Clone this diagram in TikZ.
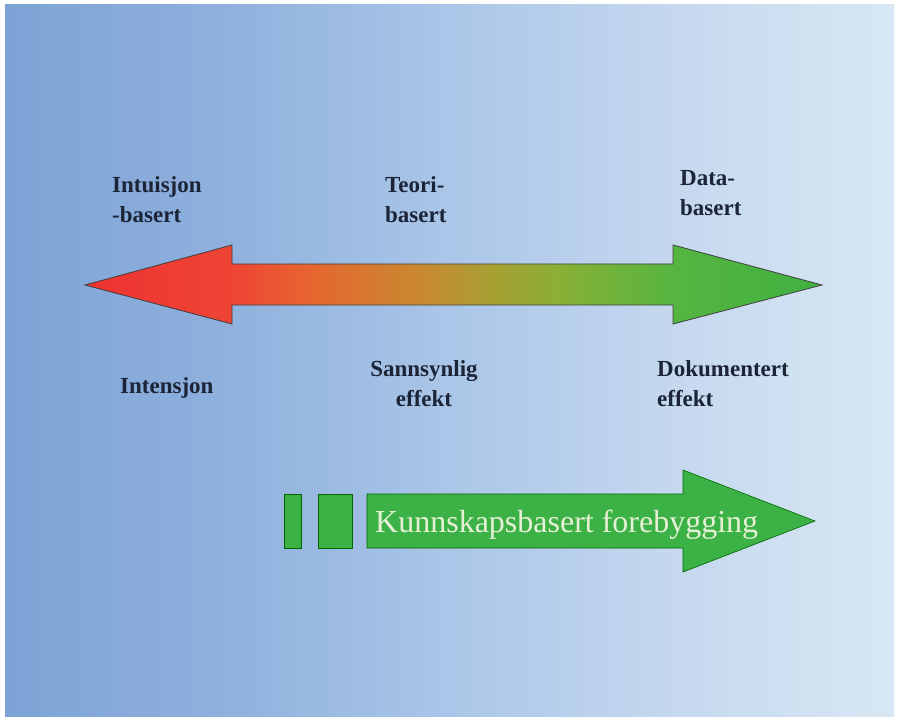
\documentclass[tikz,border=0pt]{standalone}
\usepackage{fontspec}
\setmainfont{Liberation Serif}
\definecolor{labelc}{HTML}{1C2438}
\definecolor{greenarrow}{RGB}{60,178,70}
\definecolor{kbtext}{HTML}{E6F0D6}
\pgfdeclarehorizontalshading{bgshade}{100bp}{
  color(0bp)=(rgb,255:red,125;green,163;blue,214);
  color(25bp)=(rgb,255:red,125;green,163;blue,214);
  color(37bp)=(rgb,255:red,143;green,176;blue,221);
  color(50bp)=(rgb,255:red,170;green,198;blue,232);
  color(62bp)=(rgb,255:red,196;green,215;blue,238);
  color(75bp)=(rgb,255:red,216;green,231;blue,243);
  color(100bp)=(rgb,255:red,216;green,231;blue,243)}
\pgfdeclarehorizontalshading{arrowshade}{100bp}{
  color(0bp)=(rgb,255:red,238;green,50;blue,50);
  color(25bp)=(rgb,255:red,238;green,50;blue,50);
  color(35bp)=(rgb,255:red,238;green,68;blue,52);
  color(40bp)=(rgb,255:red,232;green,100;blue,48);
  color(48bp)=(rgb,255:red,200;green,138;blue,48);
  color(52.5bp)=(rgb,255:red,168;green,160;blue,50);
  color(57bp)=(rgb,255:red,138;green,176;blue,53);
  color(65bp)=(rgb,255:red,85;green,181;blue,64);
  color(75bp)=(rgb,255:red,64;green,176;blue,64);
  color(100bp)=(rgb,255:red,64;green,176;blue,64)}
\tikzset{
  lbl/.style={font=\bfseries\fontsize{23}{30}\selectfont, text=labelc, inner sep=0pt},
  arrowline/.style={draw=black!75, line width=0.8pt, line join=miter},
  greenbox/.style={fill=greenarrow, draw=black!60!green, line width=0.6pt},
}
\begin{document}
\begin{tikzpicture}[x=1pt,y=-1pt]
\useasboundingbox (0,0) rectangle (899,719);
\fill[white] (0,0) rectangle (899,719);
\shade[shading=bgshade] (5,5) rectangle (894,716);
% double arrow
\shade[shading=arrowshade] (85,285) -- (232,245) -- (232,264) -- (673,264) -- (673,245) -- (822,285) -- (673,324) -- (673,305) -- (232,305) -- (232,324) -- cycle;
\draw[arrowline] (85,285) -- (232,245) -- (232,264) -- (673,264) -- (673,245) -- (822,285) -- (673,324) -- (673,305) -- (232,305) -- (232,324) -- cycle;
% labels (base anchor = baseline of last line)
\node[lbl, anchor=base west, align=left] (intu) at (112,223) {Intuisjon\\-basert};
\node[lbl, anchor=base west, align=left] (teori) at (385,223) {Teori-\\basert};
\node[lbl, anchor=base west, align=left] (data) at (680,216) {Data-\\basert};
\node[lbl, anchor=base west, align=left] (inten) at (120,393) {Intensjon};
\node[lbl, anchor=base, align=center] (sann) at (424,406) {Sannsynlig\\effekt};
\node[lbl, anchor=base west, align=left] (doku) at (657,406) {Dokumentert\\effekt};
% bottom arrow
\path[greenbox] (284,494) rectangle (301,548);
\path[greenbox] (318,494) rectangle (352,548);
\path[greenbox] (367,494) -- (683,494) -- (683,470) -- (815,521) -- (683,572) -- (683,548) -- (367,548) -- cycle;
\node[font=\fontsize{32}{34}\selectfont, text=kbtext, inner sep=0pt, anchor=base west] (kb) at (375,532) {Kunnskapsbasert forebygging};
\end{tikzpicture}
\end{document}
